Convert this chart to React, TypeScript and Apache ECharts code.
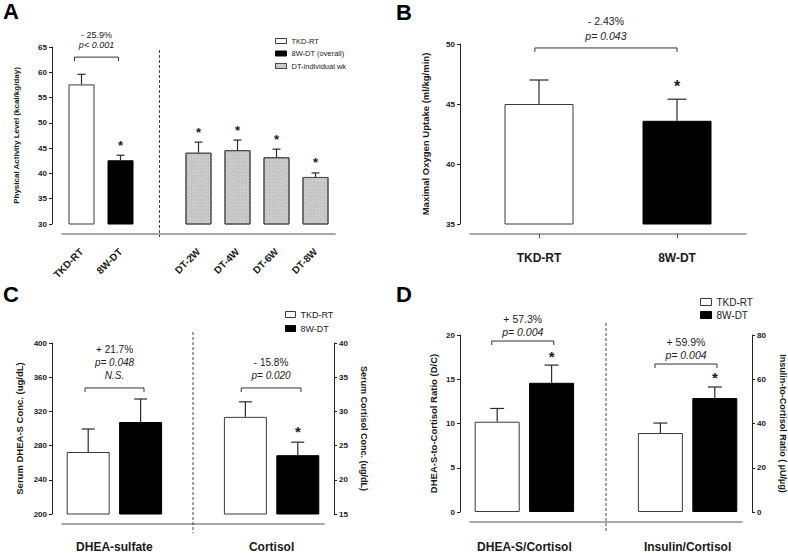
import React, { useEffect, useRef } from 'react';
import * as echarts from 'echarts';

const FONT = '"Liberation Sans", Arial, Helvetica, sans-serif';
const INK = '#1a1a1a';

// ---------- Panel A: physical activity level ----------
const aCategories = ['TKD-RT', '8W-DT', '', 'DT-2W', 'DT-4W', 'DT-6W', 'DT-8W'];
const aGroupOf = ['TKD-RT', '8W-DT (overall)', '', 'DT-individual wk', 'DT-individual wk', 'DT-individual wk', 'DT-individual wk'];
const aMeans = [57.6, 42.6, null, 44.1, 44.6, 43.2, 39.3];
const aErrors = [2.0, 1.0, null, 2.1, 2.0, 1.6, 0.8];
const aStars = [0, 1, 0, 1, 1, 1, 1];
const aYRange = [30, 65, 5];
const aBracketText = ['- 25.9%', 'p< 0.001'];

// ---------- Panel B: VO2max ----------
const bCategories = ['TKD-RT', '8W-DT'];
const bMeans = [45.0, 43.6];
const bErrors = [2.0, 1.8];
const bStars = [0, 1];
const bYRange = [35, 50, 5];
const bBracketText = ['- 2.43%', 'p= 0.043'];

// ---------- Panel C: DHEA-S and cortisol ----------
const cGroups = ['DHEA-sulfate', 'Cortisol'];
const cDheaMeans = [272.5, 307.6];
const cDheaErrors = [26.9, 26.9];
const cDheaStars = [0, 0];
const cCortisolMeans = [29.2, 23.6];
const cCortisolErrors = [2.2, 1.9];
const cCortisolStars = [0, 1];
const cLeftRange = [200, 400, 40];
const cRightRange = [15, 40, 5];
const cDheaText = ['+ 21.7%', 'p= 0.048', 'N.S.'];
const cCortisolText = ['- 15.8%', 'p= 0.020'];

// ---------- Panel D: ratios ----------
const dGroups = ['DHEA-S/Cortisol', 'Insulin/Cortisol'];
const dDcMeans = [10.2, 14.6];
const dDcErrors = [1.5, 2.0];
const dDcStars = [0, 1];
const dIcMeans = [35.7, 51.5];
const dIcErrors = [4.5, 5.0];
const dIcStars = [0, 1];
const dLeftRange = [0, 20, 5];
const dRightRange = [0, 80, 20];
const dDcText = ['+ 57.3%', 'p= 0.004'];
const dIcText = ['+ 59.9%', 'p= 0.004'];

const ARMS = ['TKD-RT', '8W-DT'];

// ---------- styles ----------
const whiteBar = { color: '#ffffff', borderColor: '#3a3a3a', borderWidth: 1 };
const blackBar = { color: '#000000', borderColor: '#000000', borderWidth: 1 };
const hatchDecal = {
  symbol: 'rect',
  symbolSize: 1,
  color: 'rgba(120,120,120,0.45)',
  dashArrayX: [1, 1],
  dashArrayY: [1, 1],
  rotation: -Math.PI / 4,
};
const hatchBar = { color: '#d2d2d2', borderColor: '#4a4a4a', borderWidth: 1, decal: hatchDecal };

// x position of a bar on the grouped value axes (group 0/1, arm 0/1)
const xPos = (group: number, arm: number) => group * 3 + 0.5 + arm;

function yAxis(gridIndex: number, range: number[], name: string, nameGap: number, nameSize: number, position = 'left') {
  return {
    type: 'value',
    gridIndex,
    min: range[0],
    max: range[1],
    interval: range[2],
    position,
    offset: 10,
    name,
    nameLocation: 'middle',
    nameGap,
    nameRotate: position === 'right' ? -90 : 90,
    nameTextStyle: { fontFamily: FONT, fontSize: nameSize, fontWeight: 'bold', color: INK },
    axisLine: { show: true, onZero: false, lineStyle: { color: '#222', width: 1 } },
    axisTick: { show: true, length: 3, lineStyle: { color: '#222', width: 1 } },
    axisLabel: { fontFamily: FONT, fontSize: 8, fontWeight: 'bold', color: INK, margin: 5 },
    splitLine: { show: false },
  };
}

const baseLine = { show: true, onZero: false, lineStyle: { color: '#8a8a8a', width: 1.6 } };

function groupAxis(gridIndex: number, groups: string[], margin: number) {
  return {
    type: 'value',
    gridIndex,
    min: 0,
    max: 5,
    interval: 1,
    offset: 10,
    axisLine: baseLine,
    axisTick: { show: false },
    splitLine: { show: false },
    axisLabel: {
      margin,
      fontFamily: FONT,
      fontSize: 12,
      fontWeight: 'bold',
      color: INK,
      showMinLabel: true,
      showMaxLabel: true,
      formatter: (v: number) => {
        const g = (Math.round(v) - 1) / 3;
        return Number.isInteger(g) && groups[g] ? groups[g] : '';
      },
    },
  };
}

function errorSeries(xAxisIndex: number, yAxisIndex: number, data: number[][], cap: number, starSize: number, starGap: number) {
  return {
    type: 'custom',
    xAxisIndex,
    yAxisIndex,
    data,
    silent: true,
    clip: false,
    z: 6,
    renderItem: (_p: any, api: any) => {
      const x = api.value(0);
      const m = api.value(1);
      const e = api.value(2);
      const s = api.value(3);
      const b = api.coord([x, m]);
      const t = api.coord([x, m + e]);
      const ls = { stroke: '#2a2a2a', lineWidth: 1.2 };
      const children: any[] = [
        { type: 'line', shape: { x1: b[0], y1: b[1], x2: t[0], y2: t[1] }, style: ls },
        { type: 'line', shape: { x1: t[0] - cap, y1: t[1], x2: t[0] + cap, y2: t[1] }, style: ls },
      ];
      if (s) {
        children.push({
          type: 'text',
          x: t[0],
          y: t[1] - starGap,
          style: { text: '*', fontSize: starSize, fontWeight: 'bold', fontFamily: FONT, fill: INK, align: 'center', verticalAlign: 'middle' },
        });
      }
      return { type: 'group', children };
    },
  };
}

type Bracket = { x1: number; x2: number; level: number; lines: string[] };

function bracketSeries(xAxisIndex: number, yAxisIndex: number, items: Bracket[], isCategory: boolean, size: number, gap: number, lh: number) {
  return {
    type: 'custom',
    xAxisIndex,
    yAxisIndex,
    data: items.map((b) => [0, b.level]),
    silent: true,
    clip: false,
    z: 6,
    renderItem: (p: any, api: any) => {
      const it = items[p.dataIndex];
      const lv = it.level;
      const px = (v: number) => {
        if (!isCategory) return api.coord([v, lv])[0];
        const i = Math.round(v);
        const band = api.coord([1, lv])[0] - api.coord([0, lv])[0];
        return api.coord([i, lv])[0] + (v - i) * band;
      };
      const y = api.coord([0, lv])[1];
      const x1 = px(it.x1);
      const x2 = px(it.x2);
      const cx = (x1 + x2) / 2;
      const children: any[] = [
        {
          type: 'polyline',
          shape: { points: [[x1, y + 4], [x1, y], [x2, y], [x2, y + 4]] },
          style: { stroke: '#333', lineWidth: 1, fill: 'none' },
        },
      ];
      const n = it.lines.length;
      it.lines.forEach((t, k) => {
        const italic = /^p|N\.S\./.test(t);
        children.push({
          type: 'text',
          x: cx,
          y: y - gap - (n - 1 - k) * lh,
          style: {
            text: t,
            fontSize: size,
            fontStyle: italic ? 'italic' : 'normal',
            fontFamily: FONT,
            fill: '#222',
            align: 'center',
            verticalAlign: 'middle',
          },
        });
      });
      return { type: 'group', children };
    },
  };
}

function dividerSeries(xAxisIndex: number, yAxisIndex: number, x: number, range: number[], topExt: number, bottomExt: number) {
  return {
    type: 'custom',
    xAxisIndex,
    yAxisIndex,
    data: [[x, range[0]]],
    silent: true,
    clip: false,
    z: 1,
    renderItem: (_p: any, api: any) => {
      const t = api.coord([api.value(0), range[1]]);
      const b = api.coord([api.value(0), range[0]]);
      return {
        type: 'line',
        shape: { x1: t[0], y1: t[1] + topExt, x2: b[0], y2: b[1] + bottomExt },
        style: { stroke: '#444', lineWidth: 1, lineDash: [3, 2] },
      };
    },
  };
}

function barSeries(name: string, xAxisIndex: number, yAxisIndex: number, data: any[], barWidth: number, itemStyle: any) {
  return { type: 'bar', name, xAxisIndex, yAxisIndex, data, barWidth, barGap: '-100%', itemStyle, silent: true };
}

function buildOption() {
  const aNames = ['TKD-RT', '8W-DT (overall)', 'DT-individual wk'];
  const aStyles = [whiteBar, blackBar, hatchBar];
  const armStyles = [whiteBar, blackBar];

  const series: any[] = [];

  // Panel A
  aNames.forEach((name, k) => {
    series.push(barSeries(name, 0, 0, aMeans.map((v, i) => (aGroupOf[i] === name && v != null ? v : '-')), 26, aStyles[k]));
  });
  series.push(dividerSeries(0, 0, 2, aYRange, 3, 13));
  series.push(
    errorSeries(
      0, 0,
      aMeans.map((m, i) => (m == null ? null : [i, m, aErrors[i] as number, aStars[i]])).filter(Boolean) as number[][],
      4, 13, 10
    )
  );
  series.push(bracketSeries(0, 0, [{ x1: -0.18, x2: 0.95, level: 63.0, lines: aBracketText }], true, 9, 12, 10));

  // Panel B
  ARMS.forEach((name, arm) => {
    series.push(barSeries(name, 1, 1, bMeans.map((v, i) => (i === arm ? v : '-')), 69, armStyles[arm]));
  });
  series.push(errorSeries(1, 1, bMeans.map((m, i) => [i, m, bErrors[i], bStars[i]]), 9.5, 16, 13));
  series.push(bracketSeries(1, 1, [{ x1: -0.03, x2: 1.0, level: 49.67, lines: bBracketText }], true, 10.5, 12, 15));

  // Panel C
  ARMS.forEach((name, arm) => {
    series.push(barSeries(name, 2, 2, [[xPos(0, arm), cDheaMeans[arm]]], 43, armStyles[arm]));
  });
  ARMS.forEach((name, arm) => {
    series.push(barSeries(name, 2, 3, [[xPos(1, arm), cCortisolMeans[arm]]], 43, armStyles[arm]));
  });
  series.push(dividerSeries(2, 2, 2.5, cLeftRange, -11, 19));
  series.push(errorSeries(2, 2, cDheaMeans.map((m, arm) => [xPos(0, arm), m, cDheaErrors[arm], cDheaStars[arm]]), 6.5, 15, 10.5));
  series.push(errorSeries(2, 3, cCortisolMeans.map((m, arm) => [xPos(1, arm), m, cCortisolErrors[arm], cCortisolStars[arm]]), 6.5, 15, 10.5));
  series.push(
    bracketSeries(2, 2, [
      { x1: 0.44, x2: 1.565, level: 347.4, lines: cDheaText },
      { x1: 3.42, x2: 4.56, level: 347.4, lines: cCortisolText },
    ], false, 10, 12.5, 13)
  );

  // Panel D
  ARMS.forEach((name, arm) => {
    series.push(barSeries(name, 3, 4, [[xPos(0, arm), dDcMeans[arm]]], 45, armStyles[arm]));
  });
  ARMS.forEach((name, arm) => {
    series.push(barSeries(name, 3, 5, [[xPos(1, arm), dIcMeans[arm]]], 45, armStyles[arm]));
  });
  series.push(dividerSeries(3, 4, 2.5, dLeftRange, -12, 20));
  series.push(errorSeries(3, 4, dDcMeans.map((m, arm) => [xPos(0, arm), m, dDcErrors[arm], dDcStars[arm]]), 7, 15, 9));
  series.push(errorSeries(3, 5, dIcMeans.map((m, arm) => [xPos(1, arm), m, dIcErrors[arm], dIcStars[arm]]), 7, 15, 9));
  series.push(
    bracketSeries(3, 4, [
      { x1: 0.4, x2: 1.54, level: 19.32, lines: dDcText },
      { x1: 3.4, x2: 4.54, level: 16.72, lines: dIcText },
    ], false, 10.5, 9, 13)
  );

  const letter = (text: string, left: number, top: number) => ({
    text,
    left,
    top,
    padding: 0,
    textStyle: { fontFamily: FONT, fontSize: 22, fontWeight: 'bold', color: '#000' },
  });

  const legendBase = (left: number, top: number, fontSize: number, w: number, h: number, gap: number, names: string[], styles: any[]) => ({
    left,
    top,
    orient: 'vertical',
    selectedMode: false,
    icon: 'rect',
    itemWidth: w,
    itemHeight: h,
    itemGap: gap,
    padding: 0,
    textStyle: { fontFamily: FONT, fontSize, color: '#222' },
    data: names.map((n, i) => ({ name: n, icon: 'rect', itemStyle: styles[i] })),
  });

  return {
    animation: false,
    backgroundColor: '#ffffff',
    title: [letter('A', 3, 0), letter('B', 396, 1), letter('C', 3, 283), letter('D', 396, 283)],
    legend: [
      legendBase(275, 37, 7.5, 11, 5, 4.5, aNames, aStyles),
      legendBase(285, 310, 9, 10, 6, 5, ARMS, armStyles),
      legendBase(700, 297, 10, 11, 7, 3, ARMS, armStyles),
    ],
    grid: [
      { left: 62, top: 47, width: 273, height: 177 },
      { left: 470, top: 44, width: 276, height: 180 },
      { left: 62, top: 343, width: 262, height: 171 },
      { left: 470, top: 335, width: 272, height: 177 },
    ],
    xAxis: [
      {
        type: 'category',
        gridIndex: 0,
        data: aCategories,
        offset: 10,
        axisLine: baseLine,
        axisTick: { show: false },
        splitLine: { show: false },
        axisLabel: { interval: 0, rotate: 45, margin: 16, fontFamily: FONT, fontSize: 10, fontWeight: 'bold', color: INK },
      },
      {
        type: 'category',
        gridIndex: 1,
        data: bCategories,
        offset: 10,
        axisLine: baseLine,
        axisTick: { show: true, alignWithLabel: true, length: 4, lineStyle: { color: '#555' } },
        splitLine: { show: false },
        axisLabel: { interval: 0, margin: 18, fontFamily: FONT, fontSize: 12, fontWeight: 'bold', color: INK },
      },
      groupAxis(2, cGroups, 17),
      groupAxis(3, dGroups, 19),
    ],
    yAxis: [
      yAxis(0, aYRange, 'Physical Activity Level (kcal/kg/day)', 32, 8),
      yAxis(1, bYRange, 'Maximal Oxygen Uptake (ml/kg/min)', 30, 9.5),
      yAxis(2, cLeftRange, 'Serum DHEA-S Conc. (ug/dL)', 28, 9.5),
      yAxis(2, cRightRange, 'Serum Cortisol Conc. (ug/dL)', 25, 9, 'right'),
      yAxis(3, dLeftRange, 'DHEA-S-to-Cortisol Ratio (D/C)', 22, 9.5),
      yAxis(3, dRightRange, 'Insulin-to-Cortisol Ratio ( \u00b5U/\u00b5g)', 26, 9, 'right'),
    ],
    series,
  };
}

export default function App() {
  const ref = useRef<HTMLDivElement>(null);
  useEffect(() => {
    if (!ref.current) return;
    const chart = echarts.init(ref.current, null, { renderer: 'svg' });
    chart.setOption(buildOption() as any);
    return () => chart.dispose();
  }, []);
  return (
    <div
      ref={ref}
      style={{ position: 'fixed', left: 0, top: 0, width: 788, height: 553, background: '#ffffff' }}
    />
  );
}
